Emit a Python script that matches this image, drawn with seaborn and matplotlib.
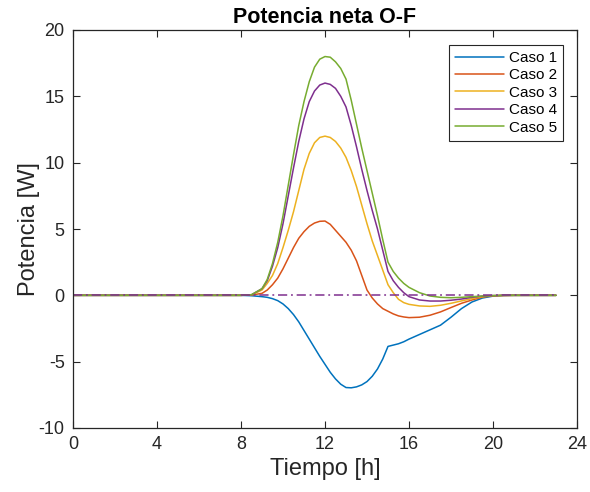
import numpy as np
import pandas as pd
import matplotlib
matplotlib.use("Agg")
import matplotlib.pyplot as plt
import seaborn as sns

# ---- data ----
# time samples: every 0.5 h, every 0.25 h between 9.25 and 15.75 h
hours = np.concatenate([np.arange(0, 9.5, 0.5),
                        np.arange(9.25, 16, 0.25),
                        np.arange(16, 23.5, 0.5)])

flat = [0.0] * 17   # 0 .. 8 h

caso1 = (flat + [-0.03, -0.1]
         + [-0.15, -0.25, -0.4, -0.65, -1.0, -1.45, -2.0, -2.65, -3.3, -3.95, -4.6, -5.2,
            -5.8, -6.3, -6.7, -6.95, -6.97, -6.9, -6.75, -6.5, -6.1, -5.55, -4.8, -3.85,
            -3.75, -3.65, -3.5]
         + [-3.3, -2.95, -2.6, -2.25, -1.65, -1.0, -0.5, -0.2, -0.06, -0.01, 0, 0, 0, 0, 0])
caso2 = (flat + [0.02, 0.15]
         + [0.4, 0.8, 1.3, 2.0, 2.8, 3.6, 4.3, 4.8, 5.2, 5.45, 5.58, 5.6, 5.35, 4.9, 4.45,
            4.0, 3.4, 2.6, 1.5, 0.4, -0.2, -0.65, -1.0, -1.2, -1.4, -1.55, -1.63]
         + [-1.68, -1.65, -1.5, -1.25, -0.92, -0.6, -0.35, -0.13, -0.04, -0.01, 0, 0, 0, 0, 0])
caso3 = (flat + [0.03, 0.4]
         + [0.9, 1.5, 2.4, 3.6, 4.9, 6.3, 7.9, 9.5, 10.7, 11.5, 11.9, 12.0, 11.9, 11.6, 11.1,
            10.4, 9.4, 8.2, 6.8, 5.4, 4.1, 3.0, 1.9, 0.8, 0.2, -0.3, -0.55]
         + [-0.68, -0.8, -0.83, -0.75, -0.6, -0.42, -0.25, -0.1, -0.03, -0.01, 0, 0, 0, 0, 0])
caso4 = (flat + [0.04, 0.5]
         + [1.1, 2.2, 3.6, 5.4, 7.5, 9.6, 11.6, 13.3, 14.6, 15.4, 15.85, 16.0, 15.9, 15.6, 15.0,
            14.2, 12.8, 11.2, 9.5, 7.9, 6.4, 5.0, 3.4, 1.8, 1.1, 0.6, 0.2]
         + [-0.1, -0.35, -0.43, -0.43, -0.37, -0.28, -0.15, -0.06, -0.02, 0, 0, 0, 0, 0, 0])
caso5 = (flat + [0.05, 0.5]
         + [1.2, 2.4, 4.0, 6.0, 8.3, 10.6, 12.8, 14.6, 16.1, 17.2, 17.8, 18.0, 17.95, 17.6, 17.1,
            16.3, 14.7, 12.9, 11.1, 9.4, 7.7, 6.0, 4.2, 2.5, 1.8, 1.3, 0.9]
         + [0.6, 0.2, -0.05, -0.15, -0.18, -0.15, -0.1, -0.05, -0.02, 0, 0, 0, 0, 0, 0])
reference = [0.0] * len(hours)            # dash-dot zero line

labels = ["Caso 1", "Caso 2", "Caso 3", "Caso 4", "Caso 5"]
series = [caso1, caso2, caso3, caso4, caso5]
colors = ["#0072BD", "#D95319", "#EDB120", "#7E2F8E", "#77AC30"]

df = pd.concat([pd.DataFrame({"Tiempo": hours, "Potencia": s, "Caso": lab})
                for s, lab in zip(series, labels)], ignore_index=True)
df_ref = pd.DataFrame({"Tiempo": hours, "Potencia": reference})

# ---- style ----
sns.set_theme(style="white")
plt.rcParams["font.family"] = ["Liberation Sans", "DejaVu Sans"]
plt.rcParams["axes.edgecolor"] = "#262626"
plt.rcParams["axes.unicode_minus"] = False

fig = plt.figure(figsize=(5.9, 4.92), dpi=100)
ax = fig.add_axes([73 / 590, 64 / 492, 504 / 590, 398 / 492])

sns.lineplot(data=df, x="Tiempo", y="Potencia", hue="Caso", palette=colors,
             linewidth=1.1, ax=ax, sort=False)
sns.lineplot(data=df_ref, x="Tiempo", y="Potencia", color="#7E2F8E",
             linestyle=(0, (6, 2.5, 1.2, 2.5)), linewidth=1.1, ax=ax, legend=False)

ax.set_xlim(0, 24)
ax.set_ylim(-10, 20)
ax.set_xticks([0, 4, 8, 12, 16, 20, 24])
ax.set_yticks([-10, -5, 0, 5, 10, 15, 20])
ax.tick_params(direction="in", length=5, width=0.8, color="#262626",
               labelcolor="#262626", labelsize=13, top=True, right=True,
               bottom=True, left=True, pad=6)
for sp in ax.spines.values():
    sp.set_linewidth(0.9)
    sp.set_color("#262626")

ax.set_xlabel("Tiempo [h]", fontsize=17, color="#262626", labelpad=3)
ax.set_ylabel("Potencia [W]", fontsize=17, color="#262626", labelpad=-1)
ax.set_title("Potencia neta O-F", fontsize=15.5, fontweight="bold", color="black", pad=5)

leg = ax.legend(loc="upper right", bbox_to_anchor=((563 - 73) / 504, (428 - 45) / 398),
                borderaxespad=0, fontsize=11, frameon=True, fancybox=False,
                framealpha=1, edgecolor="#262626", handlelength=3.2,
                handletextpad=0.3, labelspacing=0.22, borderpad=0.4)
leg.get_frame().set_linewidth(0.8)
for t in leg.get_texts():
    t.set_color("black")

fig.savefig("out.png", dpi=100)
